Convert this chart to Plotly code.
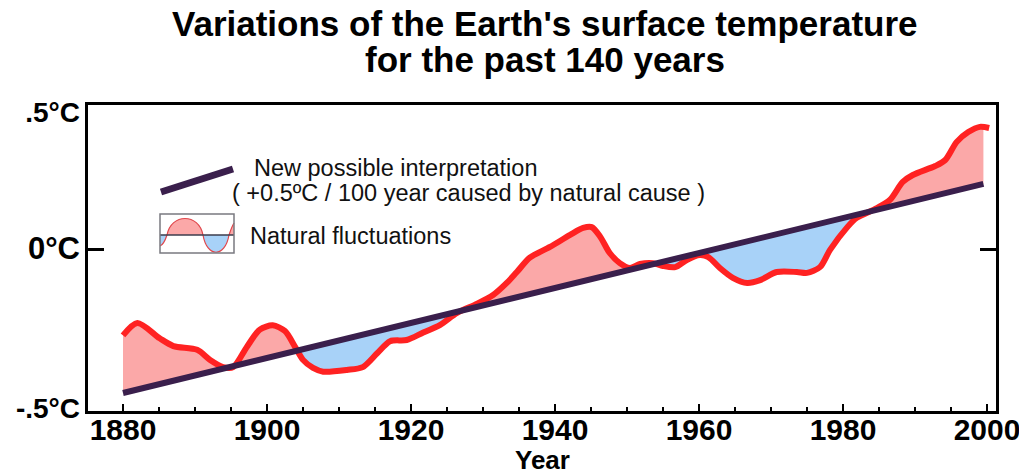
import numpy as np
import plotly.graph_objects as go

# ---- data ----
years = [1880.0, 1882.0, 1885.1, 1887.0, 1890.3, 1892.1, 1893.9, 1895.3, 1897.2, 1899.0,
         1900.8, 1902.5, 1903.9, 1905.0, 1906.4, 1907.8, 1911.1, 1913.3, 1915.3, 1917.1,
         1919.4, 1921.7, 1924.0, 1926.4, 1929.2, 1931.4, 1933.3, 1934.7, 1936.5, 1939.3,
         1942.1, 1943.9, 1945.1, 1946.3, 1947.6, 1949.0, 1950.4, 1951.8, 1953.6, 1955.0,
         1956.7, 1958.3, 1960.1, 1961.3, 1962.9, 1964.7, 1966.7, 1968.5, 1970.8, 1973.6,
         1975.0, 1976.8, 1978.2, 1980.6, 1981.9, 1984.7, 1986.5, 1988.3, 1989.7, 1992.8,
         1994.2, 1995.8, 1997.4, 1999.0, 2000.3]
temps = [-0.300, -0.257, -0.310, -0.337, -0.350, -0.385, -0.410, -0.410, -0.340, -0.280,
         -0.265, -0.285, -0.340, -0.385, -0.413, -0.426, -0.420, -0.410, -0.362, -0.320,
         -0.316, -0.290, -0.264, -0.222, -0.190, -0.160, -0.118, -0.080, -0.030, 0.007,
         0.049, 0.073, 0.076, 0.042, -0.014, -0.049, -0.066, -0.052, -0.049, -0.059,
         -0.063, -0.038, -0.021, -0.028, -0.066, -0.100, -0.118, -0.108, -0.080, -0.080,
         -0.083, -0.063, -0.003, 0.076, 0.108, 0.142, 0.170, 0.233, 0.257, 0.288,
         0.309, 0.372, 0.406, 0.424, 0.420]

trend_years = [1880.0, 1999.5]
trend_vals = [-0.500, 0.226]

x_ticks = [1880, 1900, 1920, 1940, 1960, 1980, 2000]
y_range = [-0.5625, 0.5]
y_mark_vals = [0.0]
y_label_vals = [-0.552, 0.0, 0.476]
y_label_text = ["-.5°C", "<span style='font-size:31px'>0°C</span>", ".5°C"]

title_lines = ["Variations of the Earth's surface temperature", "for the past 140 years"]
legend_line1 = "New possible interpretation"
legend_line2 = "( +0.5ºC / 100 year caused by natural cause )"
legend_fluct = "Natural fluctuations"

RED = "#ff2222"
PINK = "#fba8a8"
BLUE = "#a8d2f8"
PURPLE = "#3a1f4c"
SANS = "Liberation Sans, Arial, sans-serif"

# ---- layout geometry (pixels) ----
W, H = 1019, 475
L, R, T, B = 88, 996, 105, 411


def px(xp):
    return (xp - L) / (R - L)


def py(yp):
    return (B - yp) / (B - T)


# ---- fill polygons between curve and trend ----
yrs = np.array(years)
tv = np.array(temps)
lo, hi = trend_years[0], trend_years[1]
gx = np.unique(np.concatenate([[lo, hi], yrs[(yrs > lo) & (yrs < hi)]]))
gc = np.interp(gx, yrs, tv)
gt = np.interp(gx, trend_years, trend_vals)
d = gc - gt

segments = []
cur_x, cur_c, cur_t = [gx[0]], [gc[0]], [gt[0]]
cur_sign = np.sign(d[0]) if d[0] != 0 else 1
for i in range(1, len(gx)):
    s = np.sign(d[i]) if d[i] != 0 else cur_sign
    if s != cur_sign:
        f = d[i - 1] / (d[i - 1] - d[i])
        xc = gx[i - 1] + f * (gx[i] - gx[i - 1])
        yc = gt[i - 1] + f * (gt[i] - gt[i - 1])
        cur_x.append(xc); cur_c.append(yc); cur_t.append(yc)
        segments.append((cur_sign, cur_x, cur_c, cur_t))
        cur_x, cur_c, cur_t = [xc], [yc], [yc]
        cur_sign = s
    cur_x.append(gx[i]); cur_c.append(gc[i]); cur_t.append(gt[i])
segments.append((cur_sign, cur_x, cur_c, cur_t))

fig = go.Figure()
for sgn, sx, sc, st in segments:
    poly_x = list(sx) + list(sx[::-1])
    poly_y = list(sc) + list(st[::-1])
    fig.add_trace(go.Scatter(x=poly_x, y=poly_y, mode="lines", fill="toself",
                             fillcolor=PINK if sgn > 0 else BLUE,
                             line=dict(width=0), hoverinfo="skip", showlegend=False))

fig.add_trace(go.Scatter(x=years, y=temps, mode="lines",
                         line=dict(color=RED, width=6, shape="spline", smoothing=0.8),
                         showlegend=False))
fig.add_trace(go.Scatter(x=trend_years, y=trend_vals, mode="lines", yaxis="y2",
                         line=dict(color=PURPLE, width=6), showlegend=False))

# ---- legend drawn as layout decoration ----
shapes = []
shapes.append(dict(type="line", xref="paper", yref="paper",
                   x0=px(161), y0=py(192), x1=px(233), y1=py(169),
                   line=dict(color=PURPLE, width=7)))


def path(points_cmds):
    out = []
    for cmd, pts in points_cmds:
        if cmd == "Z":
            out.append("Z")
        else:
            out.append(cmd + " ".join(f"{px(a):.5f},{py(b):.5f}" for a, b in pts))
    return " ".join(out)


mid = 235
shapes.append(dict(type="path", xref="paper", yref="paper", line=dict(width=0),
                   fillcolor=PINK,
                   path=path([("M", [(167, mid)]), ("C", [(171, 213), (199, 213), (203, mid)]), ("Z", [])])))
shapes.append(dict(type="path", xref="paper", yref="paper", line=dict(width=0),
                   fillcolor=BLUE,
                   path=path([("M", [(203, mid)]), ("C", [(207, 258), (225, 258), (229, mid)]), ("Z", [])])))
shapes.append(dict(type="path", xref="paper", yref="paper", line=dict(width=0),
                   fillcolor=BLUE,
                   path=path([("M", [(160, mid)]), ("L", [(160, 246)]), ("C", [(163, 245), (165, 241), (167, mid)]), ("Z", [])])))
shapes.append(dict(type="path", xref="paper", yref="paper", line=dict(width=0),
                   fillcolor=PINK,
                   path=path([("M", [(229, mid)]), ("C", [(231, 229), (232, 226), (234, 223)]), ("L", [(234, mid)]), ("Z", [])])))
shapes.append(dict(type="path", xref="paper", yref="paper", line=dict(color="#e0474c", width=1.2),
                   path=path([("M", [(160, 246)]), ("C", [(163, 245), (165, 241), (167, mid)]),
                              ("C", [(171, 213), (199, 213), (203, mid)]),
                              ("C", [(207, 258), (225, 258), (229, mid)]),
                              ("C", [(231, 229), (232, 226), (234, 223)])])))
shapes.append(dict(type="line", xref="paper", yref="paper",
                   x0=px(160), y0=py(mid), x1=px(234), y1=py(mid),
                   line=dict(color="#3c3c4c", width=1.5)))
shapes.append(dict(type="rect", xref="paper", yref="paper",
                   x0=px(160), y0=py(253), x1=px(234), y1=py(214),
                   line=dict(color="#7a7a80", width=1.5)))

annotations = [
    dict(text=title_lines[0], x=px(545), y=py(23), xref="paper", yref="paper",
         showarrow=False, xanchor="center", yanchor="middle",
         font=dict(family=SANS, size=35, color="black", weight="bold")),
    dict(text=title_lines[1], x=px(545), y=py(59), xref="paper", yref="paper",
         showarrow=False, xanchor="center", yanchor="middle",
         font=dict(family=SANS, size=35, color="black", weight="bold")),
    dict(text=legend_line1, x=px(252), y=py(168), xref="paper", yref="paper",
         showarrow=False, xanchor="left", yanchor="middle",
         font=dict(family=SANS, size=23.5, color="#111")),
    dict(text=legend_line2, x=px(230), y=py(193), xref="paper", yref="paper",
         showarrow=False, xanchor="left", yanchor="middle",
         font=dict(family=SANS, size=23.5, color="#111")),
    dict(text=legend_fluct, x=px(248), y=py(236), xref="paper", yref="paper",
         showarrow=False, xanchor="left", yanchor="middle",
         font=dict(family=SANS, size=23.5, color="#111")),
    dict(text="Year", x=px(542), y=py(460), xref="paper", yref="paper",
         showarrow=False, xanchor="center", yanchor="middle",
         font=dict(family=SANS, size=26, color="black", weight="bold")),
]

x0_year = 1880 - (123 - L) / 7.2
x1_year = 1880 + (R - 123) / 7.2

fig.update_layout(
    width=W, height=H,
    margin=dict(l=L, r=W - R, t=T, b=H - B, pad=0),
    paper_bgcolor="white", plot_bgcolor="white",
    shapes=shapes, annotations=annotations,
    showlegend=False,
    xaxis=dict(range=[x0_year, x1_year], tickvals=x_ticks, ticks="inside", ticklen=7,
               tickwidth=2, tickcolor="black", showgrid=False, zeroline=False,
               showline=True, linecolor="black", linewidth=3, mirror=True,
               automargin=False, ticklabeloverflow="allow", ticklabelstandoff=-10,
               minor=dict(dtick=5, tick0=1880, ticks="inside", ticklen=4, tickwidth=1.5,
                          tickcolor="black", showgrid=False),
               tickfont=dict(family=SANS, size=30, color="black", weight="bold")),
    yaxis=dict(range=y_range, tickvals=y_mark_vals, showticklabels=False,
               ticks="inside", ticklen=16, tickwidth=3, tickcolor="black",
               showgrid=False, zeroline=False, showline=True, linecolor="black",
               linewidth=3, mirror="ticks", automargin=False),
    yaxis2=dict(range=y_range, overlaying="y", side="left", tickvals=y_label_vals,
                ticktext=y_label_text, ticks="", showline=False, showgrid=False,
                zeroline=False, automargin=False, ticklabelstandoff=7,
                tickfont=dict(family=SANS, size=28, color="black", weight="bold")),
)

fig.write_html("out.html", config={"displayModeBar": False},
               post_script="document.body.style.margin='0';document.body.style.overflow='hidden';")
